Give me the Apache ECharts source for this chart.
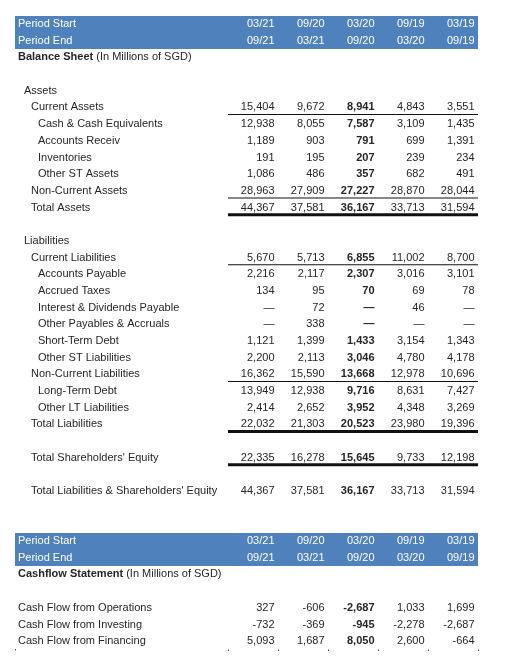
<!DOCTYPE html>
<html>
<head>
<meta charset="utf-8">
<script src="https://cdn.jsdelivr.net/npm/echarts@6/dist/echarts.min.js"></script>
<style>
html,body{margin:0;padding:0;background:#fff;}
#chart{width:508px;height:670px;}
</style>
</head>
<body>
<div id="chart"></div>
<script>
// ---------- DATA ----------
const periodStart = ['03/21', '09/20', '03/20', '09/19', '03/19'];
const periodEnd   = ['09/21', '03/21', '09/20', '03/20', '09/19'];

const currentAssets        = [15404, 9672, 8941, 4843, 3551];
const cashEquivalents      = [12938, 8055, 7587, 3109, 1435];
const accountsReceiv       = [1189, 903, 791, 699, 1391];
const inventories          = [191, 195, 207, 239, 234];
const otherSTAssets        = [1086, 486, 357, 682, 491];
const nonCurrentAssets     = [28963, 27909, 27227, 28870, 28044];
const totalAssets          = [44367, 37581, 36167, 33713, 31594];

const currentLiabilities   = [5670, 5713, 6855, 11002, 8700];
const accountsPayable      = [2216, 2117, 2307, 3016, 3101];
const accruedTaxes         = [134, 95, 70, 69, 78];
const interestDivPayable   = [null, 72, null, 46, null];
const otherPayables        = [null, 338, null, null, null];
const shortTermDebt        = [1121, 1399, 1433, 3154, 1343];
const otherSTLiabilities   = [2200, 2113, 3046, 4780, 4178];
const nonCurrentLiabs      = [16362, 15590, 13668, 12978, 10696];
const longTermDebt         = [13949, 12938, 9716, 8631, 7427];
const otherLTLiabilities   = [2414, 2652, 3952, 4348, 3269];
const totalLiabilities     = [22032, 21303, 20523, 23980, 19396];
const shareholdersEquity   = [22335, 16278, 15645, 9733, 12198];
const totalLiabEquity      = [44367, 37581, 36167, 33713, 31594];

const cfOperations         = [327, -606, -2687, 1033, 1699];
const cfInvesting          = [-732, -369, -945, -2278, -2687];
const cfFinancing          = [5093, 1687, 8050, 2600, -664];

const boldColumn = 2; // 03/20 column printed in bold

// ---------- ROW LAYOUT ----------
// kind: header | title | blank | text ; lvl = indent level ; rule = underline
const rows = [
  {kind:'header', label:'Period Start', values: periodStart},
  {kind:'header', label:'Period End', values: periodEnd},
  {kind:'title', bold:'Balance Sheet', rest:' (In Millions of SGD)'},
  {kind:'blank'},
  {kind:'text', lvl:1, label:'Assets'},
  {kind:'text', lvl:2, label:'Current Assets', values: currentAssets, rule:'thin'},
  {kind:'text', lvl:3, label:'Cash & Cash Equivalents', values: cashEquivalents},
  {kind:'text', lvl:3, label:'Accounts Receiv', values: accountsReceiv},
  {kind:'text', lvl:3, label:'Inventories', values: inventories},
  {kind:'text', lvl:3, label:'Other ST Assets', values: otherSTAssets},
  {kind:'text', lvl:2, label:'Non-Current Assets', values: nonCurrentAssets, rule:'thin'},
  {kind:'text', lvl:2, label:'Total Assets', values: totalAssets, rule:'thick'},
  {kind:'blank'},
  {kind:'text', lvl:1, label:'Liabilities'},
  {kind:'text', lvl:2, label:'Current Liabilities', values: currentLiabilities, rule:'thin'},
  {kind:'text', lvl:3, label:'Accounts Payable', values: accountsPayable},
  {kind:'text', lvl:3, label:'Accrued Taxes', values: accruedTaxes},
  {kind:'text', lvl:3, label:'Interest & Dividends Payable', values: interestDivPayable},
  {kind:'text', lvl:3, label:'Other Payables & Accruals', values: otherPayables},
  {kind:'text', lvl:3, label:'Short-Term Debt', values: shortTermDebt},
  {kind:'text', lvl:3, label:'Other ST Liabilities', values: otherSTLiabilities},
  {kind:'text', lvl:2, label:'Non-Current Liabilities', values: nonCurrentLiabs, rule:'thin'},
  {kind:'text', lvl:3, label:'Long-Term Debt', values: longTermDebt},
  {kind:'text', lvl:3, label:'Other LT Liabilities', values: otherLTLiabilities},
  {kind:'text', lvl:2, label:'Total Liabilities', values: totalLiabilities, rule:'thick'},
  {kind:'blank'},
  {kind:'text', lvl:2, label:"Total Shareholders' Equity", values: shareholdersEquity, rule:'thick'},
  {kind:'blank'},
  {kind:'text', lvl:2, label:"Total Liabilities & Shareholders' Equity", values: totalLiabEquity},
  {kind:'blank'},
  {kind:'blank'},
  {kind:'header', label:'Period Start', values: periodStart},
  {kind:'header', label:'Period End', values: periodEnd},
  {kind:'title', bold:'Cashflow Statement', rest:' (In Millions of SGD)'},
  {kind:'blank'},
  {kind:'text', lvl:0, label:'Cash Flow from Operations', values: cfOperations},
  {kind:'text', lvl:0, label:'Cash Flow from Investing', values: cfInvesting},
  {kind:'text', lvl:0, label:'Cash Flow from Financing', values: cfFinancing}
];

// ---------- BUILD ----------
const FONT = '"Liberation Sans", Arial, sans-serif';
const TEXT = '#262626';
const BLUE = '#4f81bd';

function fmt(v) {
  if (v === null || v === undefined) return '\u2014';
  if (typeof v === 'string') return v;
  return v.toLocaleString('en-US');
}

const rowCats = rows.map((r, i) => {
  if (r.kind === 'header') return '{h|' + r.label + '}';
  if (r.kind === 'title') return '{b|' + r.bold + '}{n|' + r.rest + '}';
  if (r.kind === 'text') return '{l' + r.lvl + '|' + r.label + '}';
  return '';
});

const cells = [];
const bands = [];
const rules = [];
rows.forEach((r, i) => {
  if (r.kind === 'header' && (i === 0 || rows[i - 1].kind !== 'header')) bands.push({value: [0, i], span: 2});
  if (r.values) {
    r.values.forEach((v, c) => {
      cells.push({value: [c, i], text: fmt(v), bold: r.kind !== 'header' && c === boldColumn, header: r.kind === 'header'});
    });
  }
  if (r.rule) rules.push({value: [0, i], w: r.rule === 'thick' ? 3 : 1});
});

const chart = echarts.init(document.getElementById('chart'), null, {renderer: 'canvas'});

const option = {
  animation: false,
  backgroundColor: '#fff',
  textStyle: {fontFamily: FONT},
  grid: {left: 228, right: 30, top: 15.7, bottom: 20.5, containLabel: false},
  xAxis: {
    type: 'category',
    data: periodStart,
    position: 'bottom',
    axisLine: {show: false},
    axisTick: {show: true, length: 1.5, lineStyle: {color: '#444', width: 1}},
    axisLabel: {show: false},
    splitLine: {show: false}
  },
  yAxis: {
    type: 'category',
    inverse: true,
    data: rowCats,
    z: 10,
    axisLine: {show: false},
    axisTick: {show: false},
    splitLine: {show: false},
    axisLabel: {
      interval: 0,
      align: 'left',
      margin: 210,
      fontFamily: FONT,
      fontSize: 11,
      color: TEXT,
      rich: {
        h: {color: '#fff', fontSize: 11, fontFamily: FONT},
        b: {fontWeight: 'bold', fontSize: 11, color: TEXT, fontFamily: FONT},
        n: {fontSize: 11, color: TEXT, fontFamily: FONT},
        l0: {fontSize: 11, color: TEXT, fontFamily: FONT, padding: [0, 0, 0, 0]},
        l1: {fontSize: 11, color: TEXT, fontFamily: FONT, padding: [0, 0, 0, 6]},
        l2: {fontSize: 11, color: TEXT, fontFamily: FONT, padding: [0, 0, 0, 13]},
        l3: {fontSize: 11, color: TEXT, fontFamily: FONT, padding: [0, 0, 0, 20]}
      }
    }
  },
  graphic: [
    {type: 'rect', shape: {x: 15, y: 649, width: 1, height: 1.5}, style: {fill: '#444'}}
  ],
  series: [
    {
      type: 'custom',
      name: 'bands',
      z: 1,
      data: bands,
      renderItem: function (params, api) {
        const cs = params.coordSys;
        const p = api.coord([0, api.value(1)]);
        const h = api.size([1, 1])[1];
        const span = bands[params.dataIndex].span;
        const top = p[1] - h / 2;
        return {
          type: 'rect',
          shape: {x: 15, y: Math.round(top), width: cs.x + cs.width - 15, height: Math.round(h * span)},
          style: {fill: BLUE}
        };
      }
    },
    {
      type: 'custom',
      name: 'rules',
      z: 3,
      data: rules,
      renderItem: function (params, api) {
        const cs = params.coordSys;
        const p = api.coord([0, api.value(1)]);
        const h = api.size([1, 1])[1];
        const w = rules[params.dataIndex].w;
        const y = p[1] + h / 2 - 1.2;
        return {
          type: 'rect',
          shape: {x: cs.x, y: y - w / 2, width: cs.width, height: w},
          style: {fill: '#111'}
        };
      }
    },
    {
      type: 'custom',
      name: 'values',
      z: 12,
      data: cells,
      renderItem: function (params, api) {
        const cell = cells[params.dataIndex];
        const p = api.coord([api.value(0), api.value(1)]);
        const w = api.size([1, 1])[0];
        return {
          type: 'text',
          style: {
            x: p[0] + w / 2 - 3.5,
            y: p[1],
            text: cell.text,
            align: 'right',
            verticalAlign: 'middle',
            fontFamily: FONT,
            fontSize: 11,
            fontWeight: cell.bold ? 'bold' : 'normal',
            fill: cell.header ? '#fff' : TEXT
          }
        };
      }
    }
  ]
};
chart.setOption(option);
</script>
</body>
</html>
